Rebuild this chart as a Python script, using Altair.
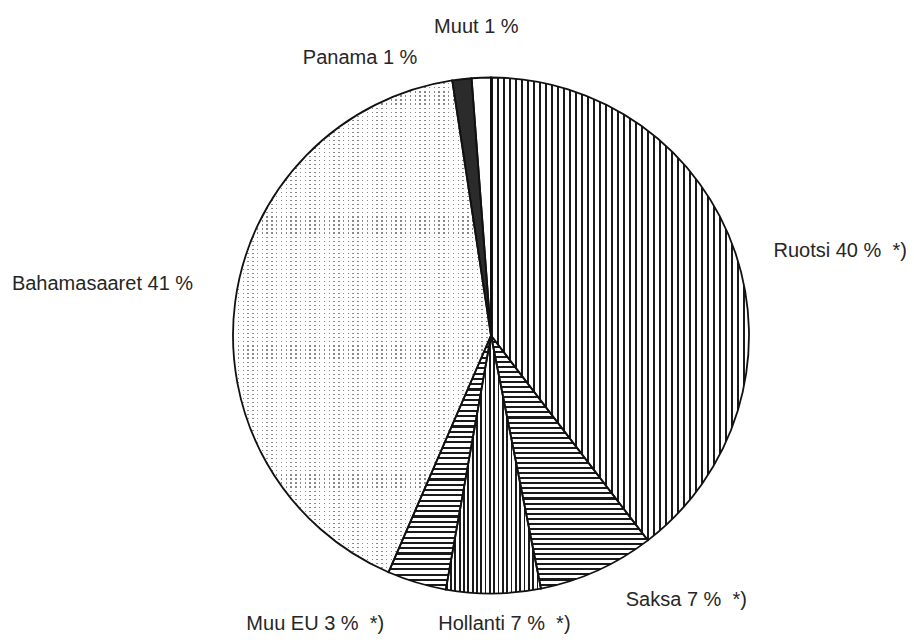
import math
import altair as alt
import pandas as pd

# ---- data ----
countries = ["Ruotsi", "Saksa", "Hollanti", "Muu EU", "Bahamasaaret", "Panama", "Muut"]
shares = [39.6, 7.3, 5.9, 3.7, 41.1, 1.2, 1.2]
labels = [
    "Ruotsi 40 %\u00a0\u00a0*)",
    "Saksa 7 %\u00a0\u00a0*)",
    "Hollanti 7 %\u00a0\u00a0*)",
    "Muu EU 3 %\u00a0\u00a0*)",
    "Bahamasaaret 41 %",
    "Panama 1 %",
    "Muut 1 %",
]
order = [0, 1, 2, 3, 4, 5, 6]

df = pd.DataFrame({"country": countries, "share": shares, "label": labels, "order": order})

# ---- layout / style ----
CX, CY, R, RT = 483, 327.5, 258, 256
FONT = "Liberation Sans"
theta_scale = alt.Scale(domain=[0, 100], range=[0, 2 * math.pi])


def stripes(n, frac, line, bg, horizontal):
    stops = []
    for i in range(n):
        a, b, c = i / n, (i + frac) / n, (i + 1) / n
        stops += [
            alt.GradientStop(color=line, offset=a),
            alt.GradientStop(color=line, offset=b),
            alt.GradientStop(color=bg, offset=b),
            alt.GradientStop(color=bg, offset=c),
        ]
    if horizontal:
        return alt.LinearGradient(gradient="linear", stops=stops, x1=0, x2=0, y1=0, y2=1)
    return alt.LinearGradient(gradient="linear", stops=stops, x1=0, x2=1, y1=0, y2=0)


fills = {
    "Ruotsi": [stripes(43, 0.36, "#1a1a1a", "#ffffff", False)],
    "Saksa": [stripes(50, 0.4, "#1a1a1a", "#ffffff", True)],
    "Hollanti": [stripes(22, 0.4, "#1a1a1a", "#ffffff", False)],
    "Muu EU": [stripes(48, 0.4, "#1a1a1a", "#ffffff", True)],
    "Bahamasaaret": [
        stripes(54, 0.3, "#8a8a8a", "#ffffff", False),
        stripes(122, 0.72, "#ffffff", "rgba(255,255,255,0)", True),
    ],
    "Panama": ["#2b2b2b"],
    "Muut": ["#ffffff"],
}

label_style = {
    "Ruotsi": dict(align="left", dx=40, dy=-2),
    "Saksa": dict(align="center", dx=90, dy=31),
    "Hollanti": dict(align="center", dx=11, dy=33),
    "Muu EU": dict(align="center", dx=-102, dy=43),
    "Bahamasaaret": dict(align="right", dx=-44, dy=-19),
    "Panama": dict(align="center", dx=-102, dy=-23),
    "Muut": dict(align="center", dx=-5, dy=-53),
}

base = alt.Chart(df).transform_window(
    cum="sum(share)", sort=[alt.SortField("order")], frame=[None, 0]
).transform_calculate(
    start="datum.cum - datum.share", mid="datum.cum - datum.share / 2"
)

pos = dict(
    theta=alt.Theta("start:Q", scale=theta_scale),
    theta2=alt.Theta2("cum:Q"),
    x=alt.value(CX),
    y=alt.value(CY),
)

layers = []
for name in countries:
    for f in fills[name]:
        layers.append(
            base.transform_filter(alt.datum.country == name)
            .mark_arc(outerRadius=R, fill=f, strokeWidth=0)
            .encode(**pos)
        )

# outlines on top
layers.append(
    base.mark_arc(outerRadius=R, fill="#ffffff", fillOpacity=0, stroke="#111111", strokeWidth=1.8)
    .encode(**pos)
)

for name in countries:
    st = label_style[name]
    layers.append(
        base.transform_filter(alt.datum.country == name)
        .mark_text(
            font=FONT, fontSize=20, color="#262626", baseline="middle",
            align=st["align"], dx=st["dx"], dy=st["dy"],
        )
        .encode(
            theta=alt.Theta("mid:Q", scale=theta_scale),
            radius=alt.value(RT),
            x=alt.value(CX),
            y=alt.value(CY),
            text="label:N",
        )
    )

chart = alt.layer(*layers).properties(
    width=898, height=627, padding=0, autosize=alt.AutoSizeParams(type="none")
).configure_view(stroke=None)

chart.save("out.html", embed_options={"renderer": "svg", "actions": False})
